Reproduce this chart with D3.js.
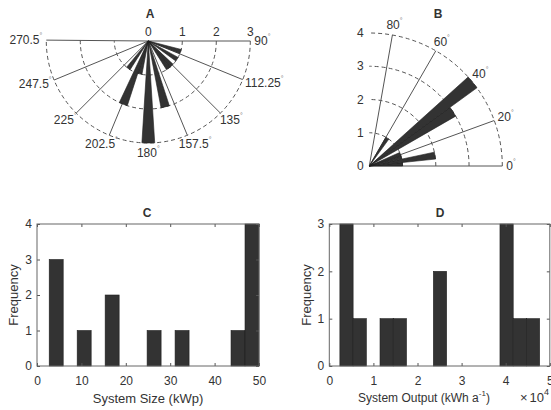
<!DOCTYPE html>
<html>
<head>
<meta charset="utf-8">
<script src="https://cdn.jsdelivr.net/npm/d3@7"></script>
<style>
  body { margin: 0; background: #fff; }
  text { font-family: "Liberation Sans", Arial, sans-serif; fill: #333; }
</style>
</head>
<body>
<svg width="551" height="410"></svg>
<script>
// ---- data ----
// A: orientation rose (compass degrees, clockwise from top)
var aziTicks = [90, 112.25, 135, 157.5, 180, 202.5, 225, 247.5, 270.5];
var aziRTicks = [0, 1, 2, 3];
var aziBinCenters = [108, 122.4, 136.8, 144, 165.6, 180, 194.4, 201.6, 216];
var aziBinWidth = 7.2;
var aziCounts = [1, 1, 1, 1, 2, 3, 1, 2, 1];

// B: tilt rose (degrees from horizontal)
var tiltTicks = [0, 20, 40, 60, 80];
var tiltRTicks = [0, 1, 2, 3, 4];
var tiltBinStart = [0, 6, 12, 18, 30, 36, 54];
var tiltBinEnd = [6, 12, 18, 24, 36, 42, 60];
var tiltCounts = [1, 2, 1, 1, 3, 4, 1];

// C: system size histogram (kWp)
var sizeEdges = [2.75, 5.9, 9.05, 12.2, 15.35, 18.5, 21.65, 24.8, 27.95, 31.1, 34.25, 37.4, 40.55, 43.7, 46.85, 50.0];
var sizeCounts = [3, 0, 1, 0, 2, 0, 0, 1, 0, 1, 0, 0, 0, 1, 4];
var sizeXTicks = [0, 10, 20, 30, 40, 50];
var sizeYTicks = [0, 1, 2, 3, 4];

// D: system output histogram (x10^4 kWh a-1)
var outEdges = [0.24, 0.54, 0.84, 1.15, 1.45, 1.75, 2.05, 2.36, 2.66, 2.96, 3.26, 3.56, 3.87, 4.17, 4.47, 4.77];
var outCounts = [3, 1, 0, 1, 1, 0, 0, 2, 0, 0, 0, 0, 3, 1, 1];
var outXTicks = [0, 1, 2, 3, 4, 5];
var outYTicks = [0, 1, 2, 3];

var svg = d3.select("svg");
var rad = function(d) { return d * Math.PI / 180; };
var gridCol = "#555", barCol = "#333", edgeCol = "#1e1e1e";

function title(x, y, t) {
  svg.append("text").attr("x", x).attr("y", y).attr("text-anchor", "middle")
     .attr("dominant-baseline", "central").style("font-weight", "bold")
     .style("font-size", "12px").text(t);
}

// angle label placed just outside the rim, pushed out by half its size
function angleLabel(g, px, py, dx, dy, val) {
  var t = g.append("text").style("font-size", "12px")
      .attr("text-anchor", "middle").attr("dominant-baseline", "central");
  t.append("tspan").text(val);
  t.append("tspan").text("°").style("font-size", "7px").attr("dy", -5).style("fill", "#777");
  var w = t.node().getComputedTextLength();
  t.attr("x", px + dx * w / 2).attr("y", py + dy * 6);
}

// ---- A ----
(function() {
  var cx = 148.3, cy = 41, R = 102;
  var r = d3.scaleLinear().domain([0, 3]).range([0, R]);
  var g = svg.append("g").attr("transform", "translate(" + cx + "," + cy + ")");

  aziRTicks.slice(1).forEach(function(v) {
    var p = d3.path();
    p.arc(0, 0, r(v), 0, rad(180.5), false);
    g.append("path").attr("d", p.toString()).attr("fill", "none")
     .attr("stroke", gridCol).attr("stroke-width", 1).attr("stroke-dasharray", "4,3");
  });
  aziTicks.forEach(function(a) {
    g.append("line").attr("x1", 0).attr("y1", 0)
     .attr("x2", R * Math.sin(rad(a))).attr("y2", -R * Math.cos(rad(a)))
     .attr("stroke", gridCol).attr("stroke-width", 1);
  });

  var arc = d3.arc().innerRadius(0);
  g.selectAll("path.bar").data(aziBinCenters).enter().append("path")
    .attr("class", "bar")
    .attr("d", function(c, i) {
      return arc({ outerRadius: r(aziCounts[i]),
                   startAngle: rad(c - aziBinWidth / 2), endAngle: rad(c + aziBinWidth / 2) });
    })
    .attr("fill", barCol).attr("stroke", edgeCol).attr("stroke-width", 0.6);

  aziTicks.forEach(function(a) {
    var dx = Math.sin(rad(a)), dy = -Math.cos(rad(a));
    angleLabel(g, (R + 4) * dx, (R + 4) * dy, dx, dy, String(a));
  });
  aziRTicks.forEach(function(v) {
    g.append("text").attr("x", r(v)).attr("y", -9).attr("text-anchor", "middle")
     .attr("dominant-baseline", "central").style("font-size", "12px").text(v);
  });
})();
title(150, 14, "A");

// ---- B ----
(function() {
  var cx = 369.3, cy = 166, R = 133;
  var r = d3.scaleLinear().domain([0, 4]).range([0, R]);
  var g = svg.append("g").attr("transform", "translate(" + cx + "," + cy + ")");

  tiltRTicks.slice(1).forEach(function(v) {
    var p = d3.path();
    p.arc(0, 0, r(v), 0, rad(-90), true);
    g.append("path").attr("d", p.toString()).attr("fill", "none")
     .attr("stroke", gridCol).attr("stroke-width", 1).attr("stroke-dasharray", "4,3");
  });
  tiltTicks.forEach(function(a) {
    g.append("line").attr("x1", 0).attr("y1", 0)
     .attr("x2", R * Math.cos(rad(a))).attr("y2", -R * Math.sin(rad(a)))
     .attr("stroke", gridCol).attr("stroke-width", 1);
  });

  var arc = d3.arc().innerRadius(0);
  g.selectAll("path.bar").data(tiltBinStart).enter().append("path")
    .attr("class", "bar")
    .attr("d", function(s, i) {
      return arc({ outerRadius: r(tiltCounts[i]),
                   startAngle: rad(90 - tiltBinEnd[i]), endAngle: rad(90 - s) });
    })
    .attr("fill", barCol).attr("stroke", edgeCol).attr("stroke-width", 0.6);

  tiltTicks.forEach(function(a) {
    var dx = Math.cos(rad(a)), dy = -Math.sin(rad(a));
    angleLabel(g, (R + 4) * dx, (R + 4) * dy, dx, dy, String(a));
  });
  tiltRTicks.forEach(function(v) {
    g.append("text").attr("x", -9).attr("y", -r(v)).attr("text-anchor", "middle")
     .attr("dominant-baseline", "central").style("font-size", "12px").text(v);
  });
})();
title(438, 14, "B");

// ---- histograms ----
function histogram(opt) {
  var x = d3.scaleLinear().domain(opt.xDomain).range([opt.left, opt.right]);
  var y = d3.scaleLinear().domain(opt.yDomain).range([opt.bottom, opt.top]);
  var g = svg.append("g");

  opt.counts.forEach(function(c, i) {
    if (c === 0) return;
    g.append("rect")
     .attr("x", x(opt.edges[i])).attr("width", x(opt.edges[i + 1]) - x(opt.edges[i]))
     .attr("y", y(c)).attr("height", y(0) - y(c))
     .attr("fill", barCol).attr("stroke", edgeCol).attr("stroke-width", 0.6);
  });

  var fmt = function(d) { return d; };
  g.append("g").attr("transform", "translate(0," + opt.bottom + ")")
    .call(d3.axisBottom(x).tickValues(opt.xTicks).tickFormat(fmt).tickSizeInner(-3).tickSizeOuter(0).tickPadding(10));
  g.append("g").attr("transform", "translate(0," + opt.top + ")")
    .call(d3.axisTop(x).tickValues(opt.xTicks).tickFormat("").tickSizeInner(-3).tickSizeOuter(0));
  g.append("g").attr("transform", "translate(" + opt.left + ",0)")
    .call(d3.axisLeft(y).tickValues(opt.yTicks).tickFormat(fmt).tickSizeInner(-3).tickSizeOuter(0).tickPadding(5));
  g.append("g").attr("transform", "translate(" + opt.right + ",0)")
    .call(d3.axisRight(y).tickValues(opt.yTicks).tickFormat("").tickSizeInner(-3).tickSizeOuter(0));
  g.selectAll(".domain").remove();
  g.selectAll(".tick line").attr("stroke", "#555");
  g.selectAll(".tick text").style("font-size", "12px").style("fill", "#333")
    .style("font-family", "'Liberation Sans', Arial, sans-serif");

  g.append("rect").attr("x", opt.left).attr("y", opt.top)
    .attr("width", opt.right - opt.left).attr("height", opt.bottom - opt.top)
    .attr("fill", "none").attr("stroke", "#666").attr("stroke-width", 1);

  g.append("text").attr("transform", "translate(" + opt.yLabelX + "," + (opt.top + opt.bottom) / 2 + ") rotate(-90)")
    .attr("text-anchor", "middle").attr("dominant-baseline", "central")
    .style("font-size", "13px").text("Frequency");
  return g;
}

histogram({
  left: 37, right: 259, top: 224, bottom: 366,
  xDomain: [0, 50], yDomain: [0, 4],
  edges: sizeEdges, counts: sizeCounts, xTicks: sizeXTicks, yTicks: sizeYTicks,
  yLabelX: 13
});
svg.append("text").attr("x", 148).attr("y", 398).attr("text-anchor", "middle")
  .attr("dominant-baseline", "central").style("font-size", "13px").text("System Size (kWp)");
title(147, 213, "C");

histogram({
  left: 329.3, right: 549.8, top: 224, bottom: 366,
  xDomain: [0, 5], yDomain: [0, 3],
  edges: outEdges, counts: outCounts, xTicks: outXTicks, yTicks: outYTicks,
  yLabelX: 306.5
});
var xl = svg.append("text").attr("x", 424).attr("y", 398).attr("text-anchor", "middle")
  .attr("dominant-baseline", "central").style("font-size", "12px");
xl.append("tspan").text("System Output (kWh a");
xl.append("tspan").text("-1").style("font-size", "8px").attr("dy", -5);
xl.append("tspan").text(")").attr("dy", 5);
var ex = svg.append("text").attr("x", 549).attr("y", 397).attr("text-anchor", "end")
  .attr("dominant-baseline", "central").style("font-size", "13px");
ex.append("tspan").text("×");
ex.append("tspan").text("10").attr("dx", 2);
ex.append("tspan").text("4").style("font-size", "9px").attr("dy", -5);
title(440, 213, "D");
</script>
</body>
</html>
